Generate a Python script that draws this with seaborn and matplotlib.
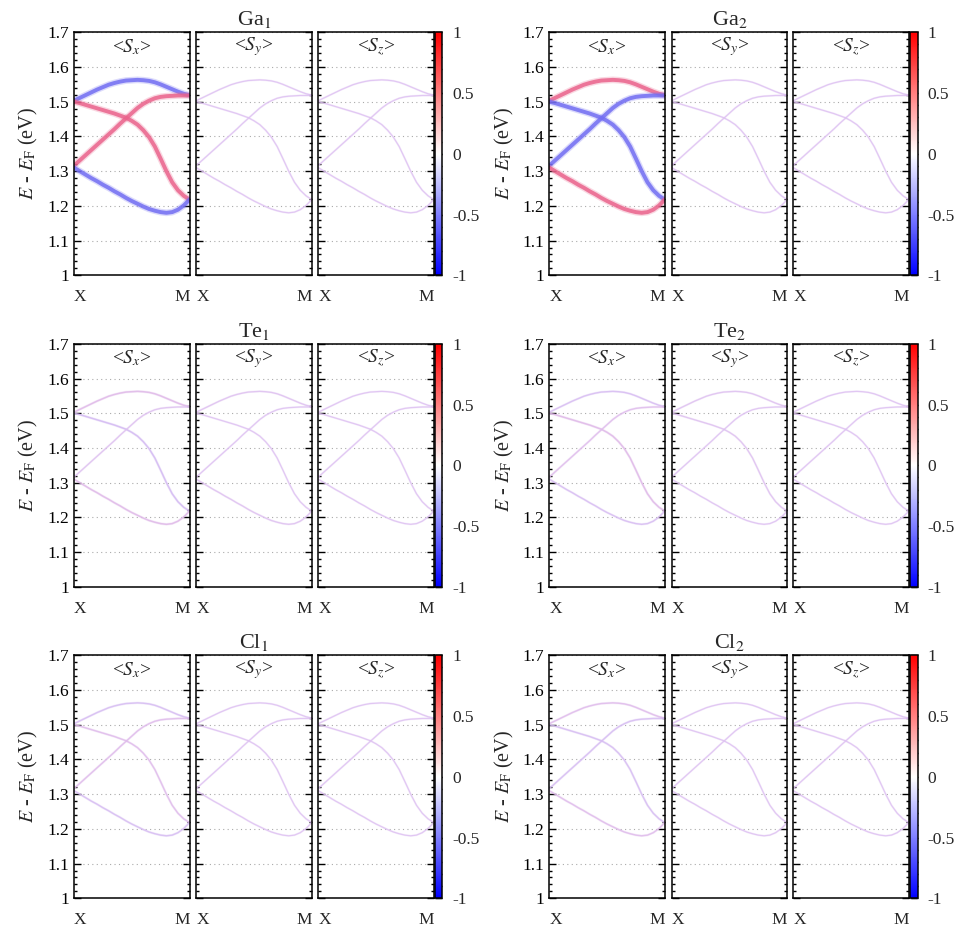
import numpy as np
import pandas as pd
import seaborn as sns
import matplotlib.pyplot as plt
from matplotlib.colors import LinearSegmentedColormap, Normalize
from matplotlib.cm import ScalarMappable
from matplotlib.ticker import MultipleLocator

sns.set_style('ticks')
plt.rcParams['font.family'] = ['Liberation Serif', 'DejaVu Serif']
plt.rcParams['mathtext.fontset'] = 'stix'
plt.rcParams['axes.unicode_minus'] = False

# k-path X -> M (fraction of path)
k = [0.0, 0.05, 0.1, 0.15, 0.2, 0.25, 0.3, 0.35, 0.4, 0.45, 0.5,
     0.55, 0.6, 0.65, 0.7, 0.75, 0.8, 0.85, 0.9, 0.95, 1.0]
k_labels = ['X', 'M']

# band energies (eV)
band_a = [1.503, 1.511, 1.519, 1.527, 1.535, 1.542, 1.549, 1.554, 1.558, 1.561, 1.562,
          1.563, 1.562, 1.560, 1.556, 1.550, 1.543, 1.536, 1.529, 1.523, 1.519]
band_b = [1.500, 1.496, 1.491, 1.486, 1.481, 1.476, 1.471, 1.466, 1.460, 1.454, 1.445,
          1.434, 1.418, 1.398, 1.371, 1.336, 1.300, 1.268, 1.245, 1.229, 1.218]
band_c = [1.316, 1.331, 1.346, 1.361, 1.376, 1.391, 1.406, 1.421, 1.437, 1.452, 1.467,
          1.482, 1.494, 1.503, 1.510, 1.514, 1.516, 1.517, 1.518, 1.518, 1.518]
band_d = [1.310, 1.300, 1.290, 1.280, 1.271, 1.261, 1.252, 1.242, 1.233, 1.223, 1.214,
          1.206, 1.198, 1.191, 1.186, 1.182, 1.180, 1.182, 1.189, 1.201, 1.218]
bands = [band_a, band_b, band_c, band_d]

atoms = ['Ga$_1$', 'Ga$_2$', 'Te$_1$', 'Te$_2$', 'Cl$_1$', 'Cl$_2$']
components = [r'<$S_x$>', r'<$S_y$>', r'<$S_z$>']

# spin expectation per band (a, b, c, d)
ga1_sx = [-0.8, 0.8, 0.8, -0.8]
ga1_sy = [0.0, 0.0, 0.0, 0.0]
ga1_sz = [0.0, 0.0, 0.0, 0.0]
ga2_sx = [0.8, -0.8, -0.8, 0.8]
ga2_sy = [0.0, 0.0, 0.0, 0.0]
ga2_sz = [0.0, 0.0, 0.0, 0.0]
te1_sx = [0.08, -0.08, 0.02, 0.08]
te1_sy = [0.02, 0.0, 0.0, 0.02]
te1_sz = [0.0, 0.0, 0.0, 0.0]
te2_sx = [-0.05, 0.08, 0.05, -0.05]
te2_sy = [0.02, 0.02, 0.0, 0.0]
te2_sz = [0.0, 0.0, 0.0, 0.0]
cl1_sx = [-0.06, 0.06, 0.06, -0.06]
cl1_sy = [0.0, 0.0, 0.0, 0.0]
cl1_sz = [0.0, 0.0, 0.0, 0.0]
cl2_sx = [0.06, -0.06, -0.06, 0.06]
cl2_sy = [0.0, 0.0, 0.0, 0.0]
cl2_sz = [0.0, 0.0, 0.0, 0.0]
spins = [[ga1_sx, ga1_sy, ga1_sz], [ga2_sx, ga2_sy, ga2_sz],
         [te1_sx, te1_sy, te1_sz], [te2_sx, te2_sy, te2_sz],
         [cl1_sx, cl1_sy, cl1_sz], [cl2_sx, cl2_sy, cl2_sz]]

line_cmap = LinearSegmentedColormap.from_list(
    'spin_line', [(0.35, 0.35, 0.95), (0.87, 0.76, 0.95), (0.93, 0.30, 0.45)])
norm = Normalize(-1, 1)

W, H = 956, 943
fig = plt.figure(figsize=(W / 100, H / 100), dpi=100)

def px_axes(x, top, w, h):
    return fig.add_axes([x / W, 1 - (top + h) / H, w / W, h / H])

col_x = [[74, 196.3, 318.3], [549.3, 671.7, 793.3]]
cbar_x = [434.5, 909.7]
row_top = [32.3, 343.8, 655.3]
pw, ph = 115.5, 243
fs = 12.5

for idx, atom in enumerate(atoms):
    row, col = idx // 2, idx % 2
    for j, comp in enumerate(components):
        ax = px_axes(col_x[col][j], row_top[row], pw, ph)
        vals = spins[idx][j]
        for band, v in zip(bands, vals):
            c = line_cmap(norm(v))
            lw = 0.9 + 2.4 * abs(v)
            df = pd.DataFrame({'k': k, 'E': band})
            sns.lineplot(data=df, x='k', y='E', ax=ax, color=c, linewidth=lw * 1.7,
                         alpha=0.25, estimator=None, sort=False)
            sns.lineplot(data=df, x='k', y='E', ax=ax, color=c, linewidth=lw,
                         alpha=0.85, estimator=None, sort=False)
        ax.set_xlim(0, 1)
        ax.set_ylim(1.0, 1.7)
        ax.yaxis.set_major_locator(MultipleLocator(0.1))
        ax.yaxis.set_minor_locator(MultipleLocator(0.02))
        ax.yaxis.grid(True, which='major', ls=(0, (1, 3)), color='#aaaaaa', lw=0.8)
        ax.tick_params(axis='y', which='both', direction='in', left=True, right=True,
                       width=1, labelsize=fs, colors='black')
        ax.tick_params(axis='y', which='major', length=5)
        ax.tick_params(axis='y', which='minor', length=2.5)
        ax.set_xticks([0, 1])
        ax.set_xticklabels(k_labels, fontsize=fs)
        ax.get_xticklabels()[0].set_ha('left')
        ax.get_xticklabels()[1].set_ha('right')
        ax.tick_params(axis='x', length=0, pad=10)
        ax.set_xlabel('')
        for s in ax.spines.values():
            s.set_color('black')
            s.set_linewidth(1.1)
        ax.text(0.5, 0.94, comp, transform=ax.transAxes, ha='center', va='center',
                fontsize=14)
        if j == 0:
            ax.set_ylabel(r'$E$ - $E_{\rm F}$ (eV)', fontsize=14.5, labelpad=5)
            ax.set_yticks([1.0, 1.1, 1.2, 1.3, 1.4, 1.5, 1.6, 1.7])
            ax.set_yticklabels(['1', '1.1', '1.2', '1.3', '1.4', '1.5', '1.6', '1.7'])
        else:
            ax.set_ylabel('')
            ax.tick_params(axis='y', labelleft=False)
        if j == 1:
            ax.set_title(atom, fontsize=16, pad=5)

    cax = px_axes(cbar_x[col], row_top[row], 7.8, ph)
    sm = ScalarMappable(norm=norm, cmap='bwr')
    cb = fig.colorbar(sm, cax=cax)
    cb.set_ticks([-1, -0.5, 0, 0.5, 1])
    cb.set_ticklabels(['-1', '-0.5', '0', '0.5', '1'])
    cb.ax.yaxis.set_minor_locator(MultipleLocator(0.1))
    cb.ax.tick_params(which='both', direction='in', left=True, right=True,
                      labelsize=fs, pad=7, width=1)
    cb.ax.tick_params(which='major', length=5)
    cb.ax.tick_params(which='minor', length=2.5)
    cb.outline.set_edgecolor('black')
    cb.outline.set_linewidth(1.1)

fig.savefig('out.png', dpi=100)
